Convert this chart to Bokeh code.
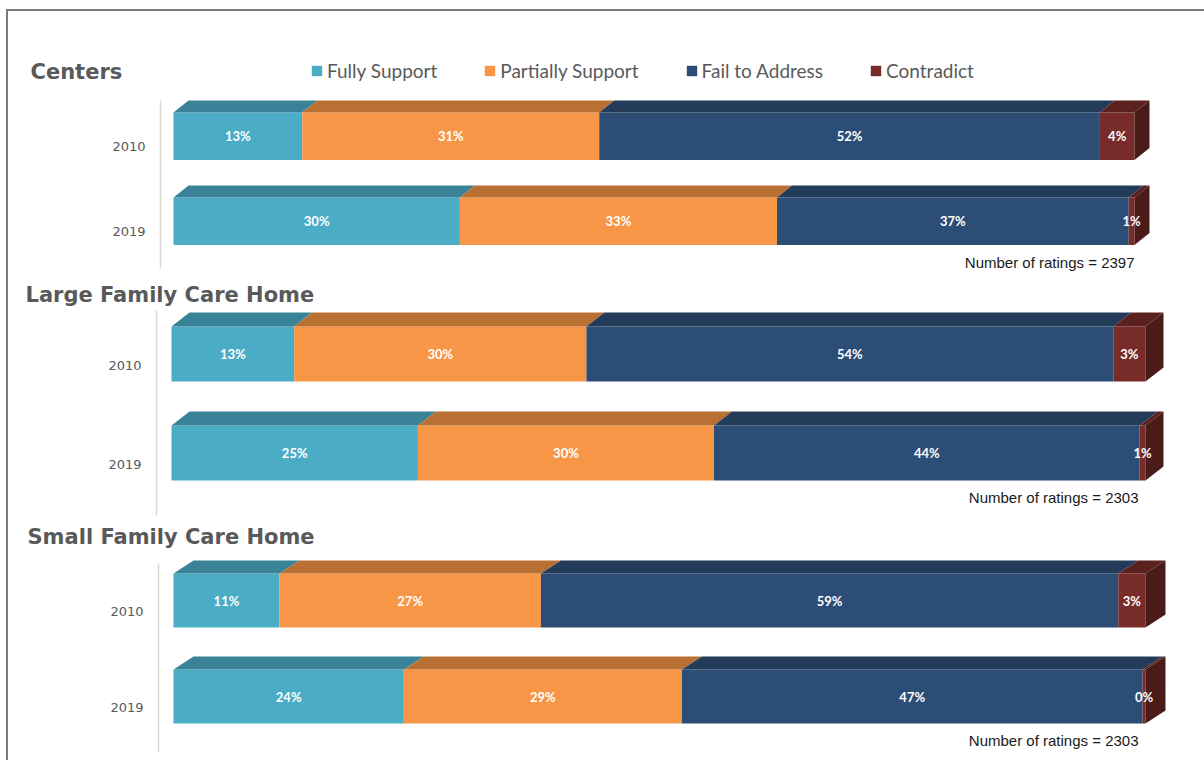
import numpy as np
from bokeh.plotting import figure
from bokeh.models import Range1d, FixedTicker, Label, Legend, LegendItem, ColumnDataSource
from bokeh.layouts import column
from bokeh.core.properties import value
from bokeh.embed import file_html
from bokeh.resources import INLINE

# ---------------- data ----------------
categories = ["Fully Support", "Partially Support", "Fail to Address", "Contradict"]
years = ["2010", "2019"]
panels = ["Centers", "Large Family Care Home", "Small Family Care Home"]

centers_2010 = [13.4, 30.9, 52.1, 3.6]
centers_2019 = [29.8, 33.0, 36.6, 0.6]
large_2010 = [12.6, 30.0, 54.1, 3.3]
large_2019 = [25.3, 30.4, 43.7, 0.6]
small_2010 = [10.9, 26.9, 59.4, 2.8]
small_2019 = [23.7, 28.6, 47.4, 0.3]
ratings = [2397, 2303, 2303]

panel_values = [
    (centers_2010, centers_2019),
    (large_2010, large_2019),
    (small_2010, small_2019),
]

# ---------------- style ----------------
front_colors = ["#4BACC6", "#F79646", "#2C4D75", "#772C2A"]
top_colors = ["#3A8297", "#B97133", "#233C5A", "#5A211F"]
side_color = "#4A1B19"
GREY = "#595959"

FIG_LEFT = 8
FIG_W = 1196

# layout anchors in page pixels
specs = [
    dict(top=11, h=266, axis_x=160, x0=173, x100=1134, l_top=100, l_bot=268,
         t10=146, t19=231, up=34, down=13.5, dx=15, dy=12,
         title_x=30, title_y=71, note_y=262, note_x=1134),
    dict(top=277, h=243, axis_x=156, x0=171, x100=1145, l_top=310, l_bot=515,
         t10=365, t19=464, up=39, down=16, dx=18, dy=14,
         title_x=25, title_y=294, note_y=497, note_x=1138),
    dict(top=520, h=240, axis_x=158, x0=173, x100=1145, l_top=563, l_bot=752,
         t10=611, t19=707, up=38, down=16, dx=20, dy=13,
         title_x=27, title_y=536, note_y=740, note_x=1138),
]

figs = []
for k, (name, vals, n, s) in enumerate(zip(panels, panel_values, ratings, specs)):
    ppx = (s["x100"] - s["x0"]) / 100.0
    ppy = float(s["t19"] - s["t10"])

    def X(px, s=s, ppx=ppx):
        return (px - s["x0"]) / ppx

    def Y(py, s=s, ppy=ppy):
        return (s["t19"] - py) / ppy

    p = figure(width=FIG_W, height=s["h"],
               x_range=Range1d(X(FIG_LEFT), X(FIG_LEFT + FIG_W)),
               y_range=Range1d(Y(s["top"] + s["h"]), Y(s["top"])),
               x_axis_location=None, output_backend="svg", toolbar_location=None,
               min_border=0, min_border_left=0, min_border_right=0,
               min_border_top=0, min_border_bottom=0)
    p.grid.visible = False
    p.outline_line_color = None
    p.background_fill_color = "white"
    p.border_fill_color = "white"

    yax = p.yaxis[0]
    yax.fixed_location = X(s["axis_x"])
    yax.bounds = (Y(s["l_bot"]), Y(s["l_top"]))
    yax.ticker = FixedTicker(ticks=[0, 1])
    yax.major_label_overrides = {1: years[0], 0: years[1]}
    yax.major_tick_line_color = None
    yax.minor_tick_line_color = None
    yax.major_tick_out = 0
    yax.major_tick_in = 0
    yax.axis_line_color = "#d9d9d9"
    yax.axis_line_width = 1.5
    yax.major_label_standoff = 15
    yax.major_label_text_font = "DejaVu Sans"
    yax.major_label_text_font_size = "13px"
    yax.major_label_text_color = GREY

    arr = np.array(vals, dtype=float)        # rows: 2010, 2019
    rows = np.array([1.0, 0.0])              # axis positions of the two years
    right = arr.cumsum(axis=1)
    left = right - arr

    up = s["up"] / ppy
    down = s["down"] / ppy
    ddx = s["dx"] / ppx
    ddy = s["dy"] / ppy
    yc = rows + (up - down) / 2
    hgt = up + down
    ytop = rows + up
    ybot = rows - down

    renderers = []
    for c, cat in enumerate(categories):
        src = ColumnDataSource(dict(y=yc, left=left[:, c], right=right[:, c]))
        r = p.hbar(y="y", left="left", right="right", height=hgt, source=src,
                   fill_color=front_colors[c], line_color=None)
        renderers.append(r)
        xs = [[left[i, c], right[i, c], right[i, c] + ddx, left[i, c] + ddx] for i in range(2)]
        ys = [[ytop[i], ytop[i], ytop[i] + ddy, ytop[i] + ddy] for i in range(2)]
        p.patches(xs, ys, fill_color=top_colors[c], line_color=None)

    # side face at the end of each bar
    end = right[:, -1]
    sxs = [[end[i], end[i] + ddx, end[i] + ddx, end[i]] for i in range(2)]
    sys_ = [[ybot[i], ybot[i] + ddy, ytop[i] + ddy, ytop[i]] for i in range(2)]
    p.patches(sxs, sys_, fill_color=side_color, line_color=None)

    # percentage labels
    tx, ty, tt = [], [], []
    for i in range(2):
        for c in range(len(categories)):
            tx.append((left[i, c] + right[i, c]) / 2)
            ty.append(yc[i])
            tt.append(f"{arr[i, c]:.0f}%")
    p.text(x=tx, y=ty, text=tt, text_align="center", text_baseline="middle",
           text_color="white", text_font=value("Lato"), text_font_style="bold",
           text_font_size="13px")

    # panel title
    p.add_layout(Label(x=X(s["title_x"]), y=Y(s["title_y"]), text=name,
                       text_font="DejaVu Sans", text_font_style="bold",
                       text_font_size="21px", text_color=GREY,
                       text_baseline="middle", text_align="left"))
    # number of ratings
    p.add_layout(Label(x=X(s["note_x"]), y=Y(s["note_y"]), text=f"Number of ratings = {n}",
                       text_font="Liberation Sans", text_font_size="15px",
                       text_color="#1a1a1a", text_baseline="middle", text_align="right"))

    if k == 0:
        legend = Legend(items=[LegendItem(label=c, renderers=[r]) for c, r in zip(categories, renderers)],
                        orientation="horizontal",
                        location=(310 - FIG_LEFT, s["top"] + s["h"] - 82),
                        glyph_width=13, glyph_height=13, label_standoff=4, spacing=46,
                        label_text_font="Lato", label_text_font_size="19px",
                        label_text_color=GREY, padding=0, margin=0,
                        border_line_color=None, background_fill_alpha=0)
        p.add_layout(legend)
    figs.append(p)

layout = column(*figs, spacing=0,
                styles={"margin-left": "6px", "margin-top": "9px",
                        "border-top": "2px solid #7a7a7a", "border-left": "2px solid #7a7a7a"})

open("out.html", "w").write(file_html(layout, INLINE))
